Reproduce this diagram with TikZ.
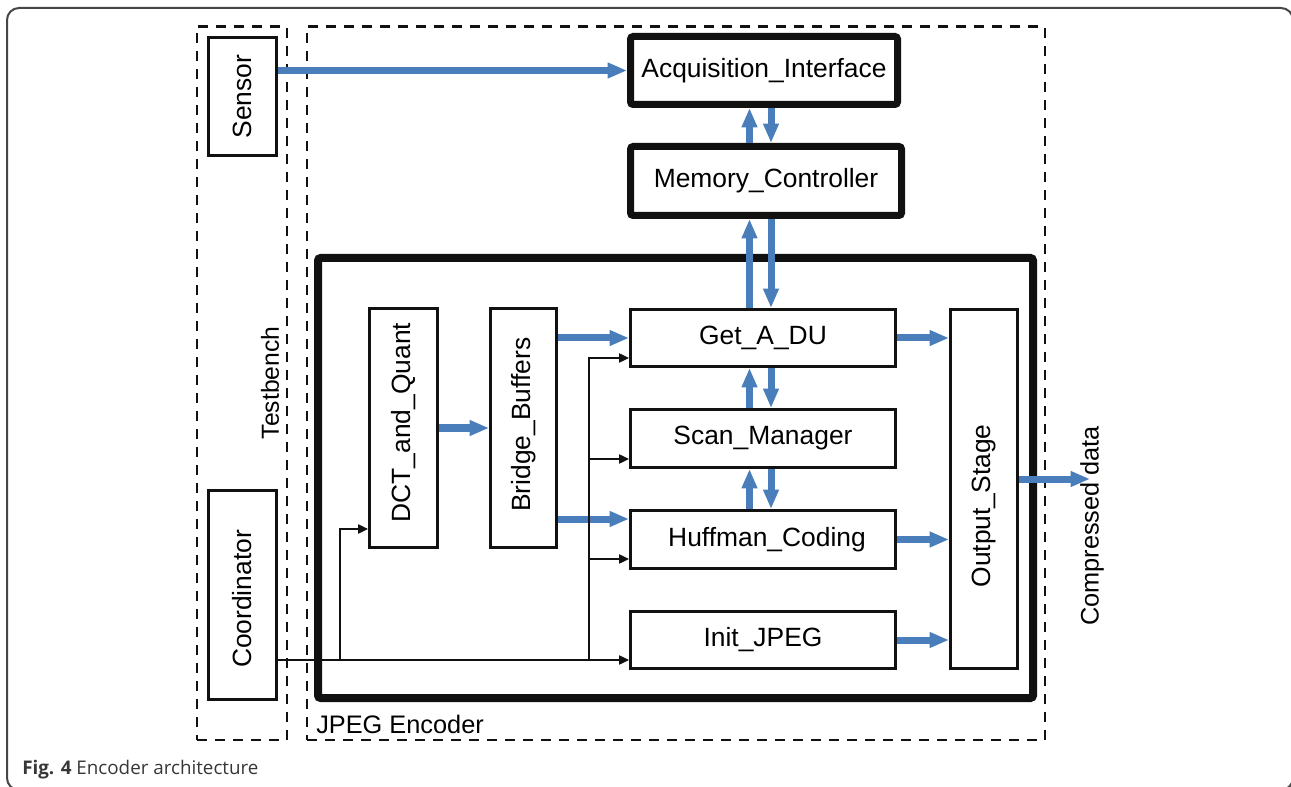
\documentclass[tikz,border=0pt]{standalone}
\usepackage{graphicx}
\usepackage{fontspec}
\setmainfont{Liberation Sans}
\newfontfamily\capfont{Open Sans}
\usetikzlibrary{arrows.meta}
\definecolor{flow}{RGB}{74,126,187}
\definecolor{framegray}{RGB}{70,70,70}
\definecolor{captiongray}{RGB}{55,55,55}
\definecolor{ink}{RGB}{17,17,17}

\begin{document}
\begin{tikzpicture}[x=0.75pt,y=-0.75pt,
  txt/.style={font=\fontsize{19.8}{22}\selectfont, inner sep=0pt},
  blk/.style 2 args={draw=ink, line width=2pt, minimum width=#1, minimum height=#2, txt},
  bigblk/.style 2 args={draw=ink, line width=5.25pt, rounded corners=2pt, minimum width=#1, minimum height=#2, txt},
  region/.style 2 args={draw=ink, line width=1.9pt, dash pattern=on 7.5pt off 6pt, minimum width=#1, minimum height=#2, inner sep=0pt},
  flowarr/.style={draw=flow, line width=5.25pt, -{Triangle[length=14.5pt, width=11pt]}},
  ctl/.style={draw=ink, line width=0.95pt, -{Triangle[length=7.5pt, width=7pt]}},
]
\useasboundingbox (0,0) rectangle (1291,787);

% outer frame of the figure
\draw[framegray, line width=1.5pt, rounded corners=9pt] (7,8) rectangle (1293,790);

% dashed regions
\node[region={67.5pt}{535pt}] (tb) at (242,383.25) {};
\node[region={553.5pt}{535pt}] (enc) at (676,383.25) {};

% encoder core
\node[draw=ink, line width=6pt, rounded corners=2pt, minimum width=536.25pt, minimum height=330pt] (core) at (675.5,478) {};

% testbench blocks
\node[blk={51.2pt}{88.7pt}] (sensor) at (242.5,96.5) {\rotatebox{90}{Sensor}};
\node[blk={51.2pt}{157pt}] (coord) at (242.5,595) {\rotatebox{90}{\hspace*{0pt}Coordinator\hspace{6pt}}};

% top-level blocks
\node[bigblk={200.25pt}{51pt}] (acq) at (764,70.5) {Acquisition\_Interface};
\node[bigblk={203.25pt}{51.75pt}] (mem) at (766,181) {Memory\_Controller};

% core blocks
\node[blk={51.2pt}{179.5pt}] (dct) at (403.5,428) {\rotatebox{90}{\hspace*{8pt}DCT\_and\_Quant}};
\node[blk={49.7pt}{179.5pt}] (bridge) at (523.5,428) {\rotatebox{90}{\hspace*{5pt}Bridge\_Buffers}};
\node[blk={199pt}{43pt}] (getdu) at (763,338) {Get\_A\_DU};
\node[blk={199pt}{43.7pt}] (scan) at (763,438.5) {Scan\_Manager};
\node[blk={199pt}{43.7pt}] (huff) at (763,539.5) {\hspace*{6pt}Huffman\_Coding};
\node[blk={199pt}{43pt}] (init) at (763,640) {Init\_JPEG};
\node[blk={50.5pt}{269.5pt}] (out) at (984,489) {\rotatebox{90}{Output\_Stage\hspace{25.5pt}}};

% labels
\node[txt, font=\fontsize{18.5}{20}\selectfont] (tblabel) at (270,383) {\rotatebox{90}{Testbench}};
\node[txt, font=\fontsize{19}{21}\selectfont, anchor=base west] (enclabel) at (316,733) {JPEG Encoder};
\node[txt, font=\fontsize{19}{21}\selectfont] (cdata) at (1092,526) {\rotatebox{90}{Compressed data}};
\node[inner sep=0pt, anchor=base west, text=captiongray, font=\capfont\fontsize{14.1}{16}\selectfont] (caption) at (22,774) {\textbf{Fig. 4} Encoder architecture};

% helper positions for the parallel and offset links
\coordinate (xu) at (749.5,0);
\coordinate (xd) at (771,0);
\coordinate (ybh) at (0,519);
\coordinate (yout) at (0,479);
\coordinate (cend) at (1090,0);
\coordinate (j1) at (340,660);
\coordinate (j2) at (589,660);
\coordinate (ydct) at (0,529);
\coordinate (yget) at (0,358);
\coordinate (yscan) at (0,459);
\coordinate (yhuff) at (0,559);

% data flow
\draw[flowarr] (sensor.east |- acq.west) -- (acq.west);
\draw[flowarr] (mem.north -| xu) -- (acq.south -| xu);
\draw[flowarr] (acq.south -| xd) -- (mem.north -| xd);
\draw[flowarr] (getdu.north -| xu) -- (mem.south -| xu);
\draw[flowarr] (mem.south -| xd) -- (getdu.north -| xd);
\draw[flowarr] (scan.north -| xu) -- (getdu.south -| xu);
\draw[flowarr] (getdu.south -| xd) -- (scan.north -| xd);
\draw[flowarr] (huff.north -| xu) -- (scan.south -| xu);
\draw[flowarr] (scan.south -| xd) -- (huff.north -| xd);
\draw[flowarr] (dct.east) -- (bridge.west);
\draw[flowarr] (bridge.east |- getdu.west) -- (getdu.west);
\draw[flowarr] (bridge.east |- ybh) -- (huff.west |- ybh);
\draw[flowarr] (getdu.east) -- (out.west |- getdu.east);
\draw[flowarr] (huff.east) -- (out.west |- huff.east);
\draw[flowarr] (init.east) -- (out.west |- init.east);
\draw[flowarr] (out.east |- yout) -- (cend |- yout);

% control signals from the coordinator
\draw[ctl] (coord.east |- j1) -- (init.west |- j1);
\draw[ctl] (j1) |- (dct.west |- ydct);
\draw[ctl] (j2) |- (getdu.west |- yget);
\draw[ctl] (j2 |- yscan) -- (scan.west |- yscan);
\draw[ctl] (j2 |- yhuff) -- (huff.west |- yhuff);
\end{tikzpicture}
\end{document}
